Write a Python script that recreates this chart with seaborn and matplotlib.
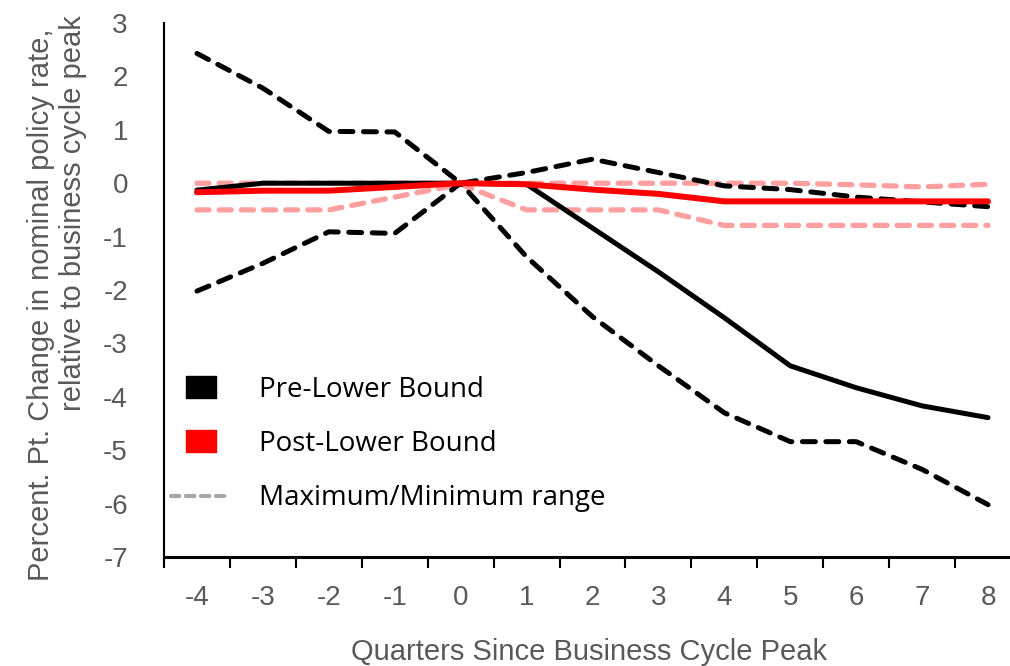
import numpy as np
import pandas as pd
import matplotlib
matplotlib.use("Agg")
import matplotlib.pyplot as plt
import seaborn as sns
from matplotlib.lines import Line2D
from matplotlib.path import Path

quarters = [-4, -3, -2, -1, 0, 1, 2, 3, 4, 5, 6, 7, 8]
pre_mean = [-0.13, 0.0, 0.0, 0.0, 0.0, -0.02, -0.84, -1.66, -2.52, -3.42, -3.83, -4.17, -4.39]
pre_max = [2.43, 1.78, 0.97, 0.96, 0.0, 0.2, 0.45, 0.2, -0.05, -0.12, -0.26, -0.35, -0.44]
pre_min = [-2.02, -1.5, -0.91, -0.94, 0.0, -1.38, -2.5, -3.42, -4.3, -4.84, -4.84, -5.36, -6.02]
post_mean = [-0.17, -0.14, -0.14, -0.07, 0.0, -0.02, -0.12, -0.2, -0.34, -0.34, -0.34, -0.34, -0.34]
post_max = [0.0, 0.0, 0.0, 0.0, 0.0, 0.0, 0.0, 0.0, 0.0, 0.0, -0.03, -0.07, -0.02]
post_min = [-0.5, -0.5, -0.5, -0.26, -0.02, -0.5, -0.5, -0.5, -0.79, -0.79, -0.79, -0.79, -0.79]
y_ticks = [3, 2, 1, 0, -1, -2, -3, -4, -5, -6, -7]
legend_labels = ["Pre-Lower Bound", "Post-Lower Bound", "Maximum/Minimum range"]

df = pd.DataFrame({"q": quarters, "pre_mean": pre_mean, "pre_max": pre_max, "pre_min": pre_min,
                   "post_mean": post_mean, "post_max": post_max, "post_min": post_min})

sns.set_theme(style="white")
plt.rcParams["font.family"] = ["Liberation Sans", "DejaVu Sans"]

W, H = 1010, 666
fig = plt.figure(figsize=(W / 100, H / 100), dpi=100)
ax = fig.add_axes([164 / W, 1 - 557 / H, (1021 - 164) / W, (557 - 23) / H])

pink = "#ff9f9f"
for col in ["post_max", "post_min"]:
    sns.lineplot(data=df, x="q", y=col, ax=ax, color=pink, linewidth=3.8, zorder=2,
                 dashes=(2.3, 1.9), dash_capstyle="round")
for col in ["pre_max", "pre_min"]:
    sns.lineplot(data=df, x="q", y=col, ax=ax, color="black", linewidth=3.6, zorder=3,
                 dashes=(2.6, 2.1), dash_capstyle="round")
sns.lineplot(data=df, x="q", y="pre_mean", ax=ax, color="black", linewidth=3.6, zorder=4,
             solid_capstyle="round")
sns.lineplot(data=df, x="q", y="post_mean", ax=ax, color="#ff0000", linewidth=4.3, zorder=5,
             solid_capstyle="round")

ax.set_xlim(-4.5, 8.5)
ax.set_ylim(-7, 3)
ax.set_xticks(quarters)
ax.set_xticklabels([str(q) for q in quarters])
ax.set_xticks(np.arange(-4.5, 9.0, 1.0), minor=True)
ax.set_yticks(y_ticks)
ax.set_yticklabels([str(v) for v in y_ticks])
ax.tick_params(axis="x", which="major", length=0, pad=20, labelsize=20, labelcolor="#595959")
ax.tick_params(axis="x", which="minor", length=8, width=1.5, color="black", direction="out", bottom=True)
ax.tick_params(axis="y", which="major", length=0, pad=26, labelsize=20, labelcolor="#595959")
ax.set_xlabel("")
ax.set_ylabel("")
for s in ["top", "right"]:
    ax.spines[s].set_visible(False)
ax.spines["left"].set_color("black")
ax.spines["left"].set_linewidth(1.5)
ax.spines["bottom"].set_color("black")
ax.spines["bottom"].set_linewidth(2.2)
ax.grid(False)

fig.text(589 / W, 1 - 652 / H, "Quarters Since Business Cycle Peak", ha="center", va="center",
         fontsize=21, color="#595959")
fig.text(41 / W, 1 - 305 / H, "Percent. Pt. Change in nominal policy rate,", rotation=90,
         ha="center", va="center", fontsize=21, color="#595959")
fig.text(73 / W, 1 - 213 / H, "relative to business cycle peak", rotation=90,
         ha="center", va="center", fontsize=21, color="#595959")

rect = Path([(-1.4, -1), (1.4, -1), (1.4, 1), (-1.4, 1), (-1.4, -1)],
            [Path.MOVETO, Path.LINETO, Path.LINETO, Path.LINETO, Path.CLOSEPOLY])
handles = [
    Line2D([], [], marker=rect, color="black", linestyle="none", markersize=22),
    Line2D([], [], marker=rect, color="#ff0000", linestyle="none", markersize=22),
    Line2D([], [], color="#a6a6a6", linewidth=3, dashes=(2.0, 1.6), dash_capstyle="round"),
]
leg = ax.legend(handles, legend_labels, loc="upper left", bbox_to_anchor=(146 / W, 1 - 351 / H),
                bbox_transform=fig.transFigure, frameon=False, handlelength=2.16,
                handletextpad=1.0, labelspacing=0.94, borderpad=0.4,
                prop={"family": ["Open Sans", "DejaVu Sans"], "size": 20})
for t in leg.get_texts():
    t.set_color("black")

fig.savefig("out.png", dpi=100)
